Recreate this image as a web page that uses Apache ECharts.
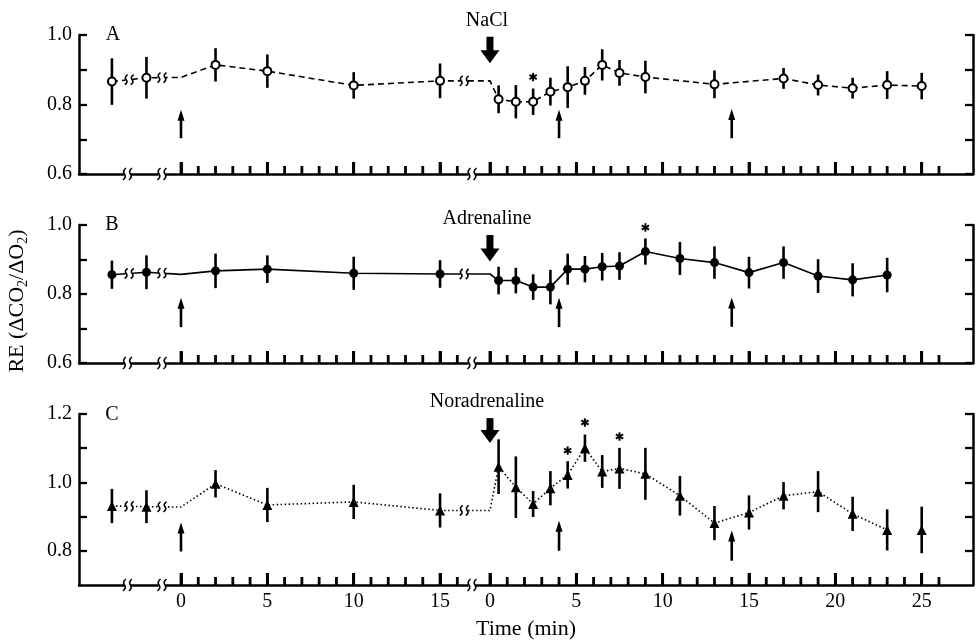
<!DOCTYPE html>
<html><head><meta charset="utf-8">
<script src="https://cdn.jsdelivr.net/npm/echarts@6/dist/echarts.min.js"></script>
<style>html,body{margin:0;padding:0;background:#fff}#c{width:978px;height:641px}</style>
</head><body><div id="c"></div>
<script>
// ---------- axis layout (minutes; post-injection times are shifted by POST_OFFSET) ----------
const X_MIN = -5.906, X_MAX = 45.86, POST_OFFSET = 17.89;
const preMajorTicks = [0, 5, 10, 15];
const postMajorTicks = [0, 5, 10, 15, 20, 25];
const preMinorTicks = [1, 2, 3, 4, 6, 7, 8, 9, 11, 12, 13, 14, 16];
const postMinorTicks = [1, 2, 3, 4, 6, 7, 8, 9, 11, 12, 13, 14, 16, 17, 18, 19, 21, 22, 23, 24, 26];
const axisBreaks = [-3.1, -1.1, 16.85];
const lineBreaks = [-3.0, -1.1, 16.4];
const yTicksAB = [0.6, 0.7, 0.8, 0.9, 1.0];
const yLabelsAB = [0.6, 0.8, 1.0];
const yTicksC = [0.8, 0.9, 1.0, 1.1, 1.2];
const yLabelsC = [0.8, 1.0, 1.2];

// ---------- Panel A : NaCl ----------
const A_preT = [-4, -2, 2, 5, 10, 15];
const A_preV = [0.866, 0.877, 0.914, 0.896, 0.855, 0.868];
const A_preE = [0.067, 0.060, 0.048, 0.048, 0.038, 0.050];
const A_postT = [0.5, 1.5, 2.5, 3.5, 4.5, 5.5, 6.5, 7.5, 9, 13, 17, 19, 21, 23, 25];
const A_postV = [0.815, 0.808, 0.808, 0.837, 0.850, 0.868, 0.914, 0.891, 0.879, 0.858, 0.875, 0.856, 0.847, 0.856, 0.853];
const A_postE = [0.040, 0.048, 0.038, 0.040, 0.060, 0.040, 0.045, 0.037, 0.047, 0.040, 0.030, 0.030, 0.030, 0.040, 0.038];
const A_anchorPre = 0.878, A_anchorPost = 0.868;
const A_starT = [2.5], A_starV = [0.879];
const A_eventLow = [0.703, 0.703, 0.703], A_eventHigh = [0.785, 0.785, 0.787];
const A_inj = [0.995, 0.919];

// ---------- Panel B : Adrenaline ----------
const B_preT = [-4, -2, 2, 5, 10, 15];
const B_preV = [0.856, 0.863, 0.867, 0.872, 0.860, 0.858];
const B_preE = [0.041, 0.049, 0.050, 0.040, 0.048, 0.040];
const B_postT = [0.5, 1.5, 2.5, 3.5, 4.5, 5.5, 6.5, 7.5, 9, 11, 13, 15, 17, 19, 21, 23];
const B_postV = [0.839, 0.839, 0.820, 0.820, 0.872, 0.872, 0.879, 0.881, 0.923, 0.903, 0.891, 0.862, 0.891, 0.852, 0.841, 0.855];
const B_postE = [0.040, 0.037, 0.037, 0.050, 0.045, 0.038, 0.040, 0.040, 0.038, 0.048, 0.047, 0.046, 0.047, 0.049, 0.048, 0.050];
const B_anchorPre = 0.857, B_anchorPost = 0.858;
const B_starT = [9], B_starV = [0.993];
const B_eventLow = [0.704, 0.704, 0.705], B_eventHigh = [0.789, 0.789, 0.790];
const B_inj = [0.971, 0.894];

// ---------- Panel C : Noradrenaline ----------
const C_preT = [-4, -2, 2, 5, 10, 15];
const C_preV = [0.931, 0.929, 0.996, 0.934, 0.943, 0.918];
const C_preE = [0.050, 0.048, 0.040, 0.050, 0.050, 0.050];
const C_postT = [0.5, 1.5, 2.5, 3.5, 4.5, 5.5, 6.5, 7.5, 9, 11, 13, 15, 17, 19, 21, 23, 25];
const C_postV = [1.046, 0.986, 0.937, 0.983, 1.022, 1.100, 1.032, 1.041, 1.025, 0.961, 0.881, 0.912, 0.961, 0.973, 0.908, 0.861, 0.861];
const C_postE = [0.080, 0.090, 0.038, 0.050, 0.040, 0.040, 0.048, 0.060, 0.076, 0.058, 0.050, 0.050, 0.040, 0.060, 0.050, 0.060, 0.068];
const C_anchorPre = 0.928, C_anchorPost = 0.918;
const C_starT = [4.5, 5.5, 7.5], C_starV = [1.093, 1.175, 1.134];
const C_eventLow = [0.798, 0.800, 0.771], C_eventHigh = [0.883, 0.888, 0.859];
const C_inj = [1.188, 1.115];

// event (small up arrow) times: pre 0, post 4, post 14
const eventPreT = [0];
const eventPostT = [4, 14];
const drugs = ['NaCl', 'Adrenaline', 'Noradrenaline'];
const panelLetters = ['A', 'B', 'C'];

// ---------- build ----------
const FONT = '"Liberation Serif", "DejaVu Serif", serif';
const post = t => t + POST_OFFSET;
const eventX = eventPreT.concat(eventPostT.map(post));
const majorX = preMajorTicks.concat(postMajorTicks.map(post));
const minorX = preMinorTicks.concat(postMinorTicks.map(post));

const panels = [
  {preT: A_preT, preV: A_preV, preE: A_preE, postT: A_postT, postV: A_postV, postE: A_postE,
   anchors: [A_anchorPre, A_anchorPost], lineMaxT: 25, starT: A_starT, starV: A_starV,
   evLow: A_eventLow, evHigh: A_eventHigh, inj: A_inj, yMin: 0.6, yMax: 1.0, yTicks: yTicksAB, yLabels: yLabelsAB,
   top: 35, height: 139, symbol: 'circle', symbolSize: 8, fill: '#fff', lineType: [6, 4]},
  {preT: B_preT, preV: B_preV, preE: B_preE, postT: B_postT, postV: B_postV, postE: B_postE,
   anchors: [B_anchorPre, B_anchorPost], lineMaxT: 23, starT: B_starT, starV: B_starV,
   evLow: B_eventLow, evHigh: B_eventHigh, inj: B_inj, yMin: 0.6, yMax: 1.0, yTicks: yTicksAB, yLabels: yLabelsAB,
   top: 225, height: 138, symbol: 'circle', symbolSize: 9, fill: '#000', lineType: 'solid'},
  {preT: C_preT, preV: C_preV, preE: C_preE, postT: C_postT, postV: C_postV, postE: C_postE,
   anchors: [C_anchorPre, C_anchorPost], lineMaxT: 23, starT: C_starT, starV: C_starV,
   evLow: C_eventLow, evHigh: C_eventHigh, inj: C_inj, yMin: 0.7, yMax: 1.2, yTicks: yTicksC, yLabels: yLabelsC,
   top: 414, height: 171, symbol: 'triangle', symbolSize: 10, fill: '#000', lineType: [1.5, 2.5]}
];

function interp(pts, x) {
  for (let i = 0; i < pts.length - 1; i++) {
    const a = pts[i], b = pts[i + 1];
    if (x >= a[0] && x <= b[0]) return a[1] + (b[1] - a[1]) * (x - a[0]) / (b[0] - a[0]);
  }
  return pts[0][1];
}

function breakGroup(cx, cy, h) {
  const s = dx => {
    const X = cx + dx;
    return 'M' + (X + 1.5) + ',' + (cy - h) + 'Q' + (X - 2.2) + ',' + (cy - h / 2) + ' ' + X + ',' + cy +
           'Q' + (X + 2.2) + ',' + (cy + h / 2) + ' ' + (X - 1.5) + ',' + (cy + h);
  };
  return {type: 'group', children: [
    {type: 'rect', shape: {x: cx - 3.5, y: cy - 4, width: 7, height: 8}, style: {fill: '#fff'}},
    {type: 'path', shape: {pathData: s(-3) + s(3)}, style: {stroke: '#000', lineWidth: 1.6, fill: null}}
  ]};
}

function lineBreakRender(params, api) {
  const p = api.coord([api.value(0), api.value(1)]);
  return breakGroup(p[0], p[1], 5);
}

// axis decorations: major ticks, then minor ticks, then axis breaks (order of data = order of kinds)
function axisDecorRender(params, api) {
  const p = api.coord([api.value(0), api.value(1)]);
  const idx = params.dataIndex;
  if (idx < majorX.length + minorX.length) {
    const len = idx < majorX.length ? 12 : 8;
    return {type: 'rect', shape: {x: p[0] - 1.4, y: p[1] - len, width: 2.8, height: len}, style: {fill: '#000'}};
  }
  return breakGroup(p[0], p[1], 6);
}

function errRender(params, api) {
  const x = api.value(0), y = api.value(1), e = api.value(2);
  const a = api.coord([x, y + e]), b = api.coord([x, y - e]);
  return {type: 'line', shape: {x1: a[0], y1: a[1], x2: b[0], y2: b[1]}, style: {stroke: '#000', lineWidth: 2.6}};
}

function upArrowRender(params, api) {
  const x = api.value(0);
  const a = api.coord([x, api.value(1)]), b = api.coord([x, api.value(2)]);
  const hh = 11, hw = 7;
  return {type: 'group', children: [
    {type: 'line', shape: {x1: a[0], y1: a[1], x2: b[0], y2: b[1] + hh - 1}, style: {stroke: '#000', lineWidth: 2.6}},
    {type: 'polygon', shape: {points: [[b[0], b[1]], [b[0] - hw / 2, b[1] + hh], [b[0] + hw / 2, b[1] + hh]]}, style: {fill: '#000'}}
  ]};
}

function makeInjRender(label) {
  return function (params, api) {
    const x = api.value(0);
    const a = api.coord([x, api.value(1)]), b = api.coord([x, api.value(2)]);
    const hh = 13, hw = 19, sw = 7;
    return {type: 'group', children: [
      {type: 'rect', shape: {x: a[0] - sw / 2, y: a[1], width: sw, height: b[1] - hh - a[1] + 1}, style: {fill: '#000'}},
      {type: 'polygon', shape: {points: [[b[0] - hw / 2, b[1] - hh], [b[0] + hw / 2, b[1] - hh], [b[0], b[1]]]}, style: {fill: '#000'}},
      {type: 'text', style: {text: label, x: a[0] - 3, y: a[1] - 16, align: 'center', verticalAlign: 'middle',
        fontSize: 20, fontFamily: FONT, fill: '#000'}}
    ]};
  };
}

function starRender(params, api) {
  const p = api.coord([api.value(0), api.value(1)]);
  const r = 4.2, ch = [];
  for (let k = 0; k < 3; k++) {
    const ang = Math.PI / 2 + k * Math.PI / 3;
    ch.push({type: 'line', shape: {x1: p[0] - r * Math.cos(ang), y1: p[1] - r * Math.sin(ang),
      x2: p[0] + r * Math.cos(ang), y2: p[1] + r * Math.sin(ang)}, style: {stroke: '#000', lineWidth: 2}});
  }
  return {type: 'group', children: ch};
}

const grids = [], xAxes = [], yAxes = [], series = [];

panels.forEach((P, i) => {
  grids.push({left: 79, right: 5, top: P.top, height: P.height});
  const isLast = i === panels.length - 1;
  xAxes.push({
    type: 'value', gridIndex: i, min: X_MIN, max: X_MAX,
    axisLine: {show: true, lineStyle: {color: '#000', width: 2.5}},
    axisTick: {show: true, inside: true, length: 12, customValues: majorX, lineStyle: {color: '#000', width: 2.8}},
    axisLabel: {show: isLast, customValues: majorX, margin: 7, color: '#000', fontSize: 20, fontFamily: FONT,
      formatter: v => String(Math.round(v > axisBreaks[2] ? v - POST_OFFSET : v))},
    splitLine: {show: false},
    name: isLast ? 'Time (min)' : '', nameLocation: 'middle', nameGap: 33,
    nameTextStyle: {color: '#000', fontSize: 22, fontFamily: FONT}
  });
  const yCommon = {type: 'value', gridIndex: i, min: P.yMin, max: P.yMax, splitLine: {show: false},
    axisLine: {show: true, onZero: false, lineStyle: {color: '#000', width: 2.5}}};
  yAxes.push(Object.assign({}, yCommon, {
    position: 'left',
    axisTick: {show: true, inside: true, length: 8, customValues: P.yTicks, lineStyle: {color: '#000', width: 2.3}},
    axisLabel: {show: true, customValues: P.yLabels, margin: 7, color: '#000', fontSize: 20, fontFamily: FONT,
      formatter: v => v.toFixed(1)}
  }));
  yAxes.push(Object.assign({}, yCommon, {
    position: 'right',
    axisTick: {show: true, inside: true, length: 8, customValues: P.yTicks, lineStyle: {color: '#000', width: 2.3}},
    axisLabel: {show: false}
  }));

  const xi = i, yi = 2 * i;
  const pts = P.preT.map((t, k) => [t, P.preV[k], P.preE[k]])
    .concat(P.postT.map((t, k) => [post(t), P.postV[k], P.postE[k]]));
  const linePts = P.preT.map((t, k) => [t, P.preV[k]])
    .concat([[0, P.anchors[0]], [post(0), P.anchors[1]]])
    .concat(P.postT.filter(t => t <= P.lineMaxT).map(t => [post(t), P.postV[P.postT.indexOf(t)]]))
    .sort((a, b) => a[0] - b[0]);

  series.push({type: 'line', xAxisIndex: xi, yAxisIndex: yi, data: linePts, showSymbol: false, silent: true, z: 2,
    lineStyle: {color: '#000', width: 1.6, type: P.lineType}});
  series.push({type: 'custom', xAxisIndex: xi, yAxisIndex: yi, data: pts, renderItem: errRender, z: 3, silent: true, clip: false});
  series.push({type: 'scatter', xAxisIndex: xi, yAxisIndex: yi, data: pts.map(p => [p[0], p[1]]), z: 4, silent: true,
    symbol: P.symbol, symbolSize: P.symbolSize, itemStyle: {color: P.fill, borderColor: '#000', borderWidth: P.fill === '#fff' ? 2 : 0, opacity: 1}});
  series.push({type: 'custom', xAxisIndex: xi, yAxisIndex: yi, data: lineBreaks.map(x => [x, interp(linePts, x)]),
    renderItem: lineBreakRender, z: 5, silent: true, clip: false});
  series.push({type: 'custom', xAxisIndex: xi, yAxisIndex: yi,
    data: majorX.concat(minorX).concat(axisBreaks).map(x => [x, P.yMin]),
    renderItem: axisDecorRender, z: 20, silent: true, clip: false});
  series.push({type: 'custom', xAxisIndex: xi, yAxisIndex: yi, data: eventX.map((x, k) => [x, P.evLow[k], P.evHigh[k]]),
    renderItem: upArrowRender, z: 5, silent: true, clip: false});
  series.push({type: 'custom', xAxisIndex: xi, yAxisIndex: yi, data: [[post(0), P.inj[0], P.inj[1]]],
    renderItem: makeInjRender(drugs[i]), z: 5, silent: true, clip: false});
  series.push({type: 'custom', xAxisIndex: xi, yAxisIndex: yi, data: P.starT.map((t, k) => [post(t), P.starV[k]]),
    renderItem: starRender, z: 5, silent: true, clip: false});
});

const graphic = [
  {type: 'text', x: 113, y: 35, style: {text: panelLetters[0], fontSize: 20, fontFamily: FONT, fill: '#000', align: 'center', verticalAlign: 'middle'}},
  {type: 'text', x: 112, y: 225, style: {text: panelLetters[1], fontSize: 20, fontFamily: FONT, fill: '#000', align: 'center', verticalAlign: 'middle'}},
  {type: 'text', x: 112, y: 415, style: {text: panelLetters[2], fontSize: 20, fontFamily: FONT, fill: '#000', align: 'center', verticalAlign: 'middle'}},
  {type: 'text', x: 17, y: 301, rotation: Math.PI / 2,
    style: {text: 'RE (ΔCO{s|2}/ΔO{s|2})', fontSize: 22, fontFamily: FONT, fill: '#000', align: 'center', verticalAlign: 'middle',
      lineHeight: 26, rich: {s: {fontSize: 14, fontFamily: FONT, verticalAlign: 'bottom', lineHeight: 26}}}}
];

const chart = echarts.init(document.getElementById('c'));
chart.setOption({
  animation: false, backgroundColor: '#fff',
  grid: grids, xAxis: xAxes, yAxis: yAxes, series: series, graphic: graphic
});
</script></body></html>
